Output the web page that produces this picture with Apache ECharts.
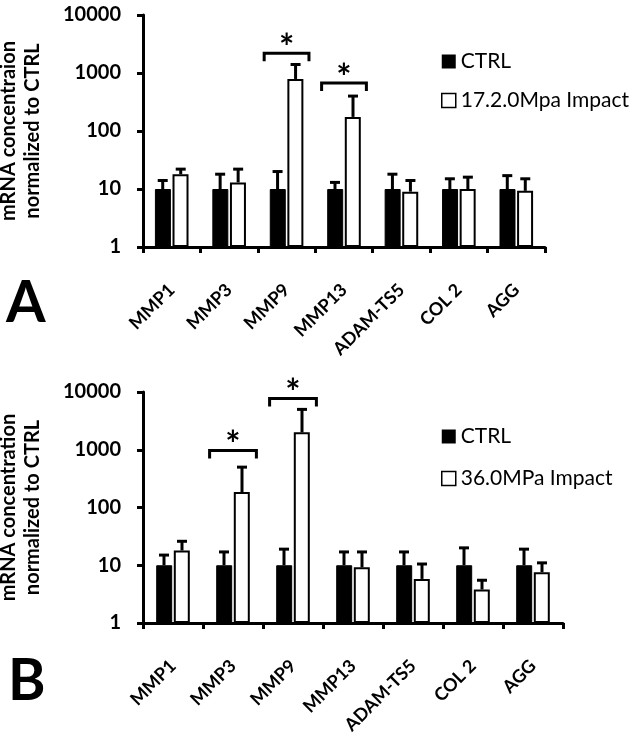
<!DOCTYPE html>
<html>
<head>
<meta charset="utf-8">
<script src="https://cdn.jsdelivr.net/npm/echarts@6/dist/echarts.min.js"></script>
<style>
  html, body { margin: 0; padding: 0; background: #fff; }
  #chart { width: 633px; height: 740px; }
</style>
</head>
<body>
<div id="chart"></div>
<script>
// categories (shared by both panels)
const categories = ['MMP1', 'MMP3', 'MMP9', 'MMP13', 'ADAM-TS5', 'COL 2', 'AGG'];

// panel A: 17.2 MPa impact
const ctrlA = [10, 10, 10, 10, 10, 10, 10];
const ctrlTopA = [14, 18, 20, 13, 18, 15, 17];      // mean + SD
const impactA = [18, 13, 790, 175, 9, 10, 9.3];
const impactTopA = [22, 22, 1400, 400, 14, 16, 15];
const sigA = [[2, 2200], [3, 670]];                 // [category, bracket height]

// panel B: 36.0 MPa impact
const ctrlB = [10, 10, 10, 10, 10, 10, 10];
const ctrlTopB = [15, 17, 19, 17, 17, 20, 19];
const impactB = [18, 185, 2000, 9.2, 5.8, 3.8, 7.6];
const impactTopB = [26, 500, 5000, 17, 10.5, 5.5, 11];
const sigB = [[1, 970], [2, 7700]];

const labelA = '17.2.0Mpa Impact';
const labelB = '36.0MPa Impact';

const FONT = 'Lato';
const BAR_W = 16;

const chart = echarts.init(document.getElementById('chart'));

// error bars, only upward
function errRender(offset) {
  return function (params, api) {
    const base = api.coord([api.value(0), api.value(1)]);
    const top = api.coord([api.value(0), api.value(2)]);
    const x = base[0] + offset;
    return {
      type: 'group',
      children: [
        { type: 'line', shape: { x1: x, y1: base[1], x2: x, y2: top[1] }, style: { stroke: '#000', lineWidth: 3 } },
        { type: 'line', shape: { x1: x - 5, y1: top[1], x2: x + 5, y2: top[1] }, style: { stroke: '#000', lineWidth: 3 } }
      ]
    };
  };
}

// significance bracket with star
function sigRender(params, api) {
  const p = api.coord([api.value(0), api.value(1)]);
  const band = api.coord([1, 1])[0] - api.coord([0, 1])[0];
  const hw = band * 0.39;
  return {
    type: 'group',
    children: [
      { type: 'polyline', shape: { points: [[p[0] - hw, p[1] + 8], [p[0] - hw, p[1]], [p[0] + hw, p[1]], [p[0] + hw, p[1] + 8]] },
        style: { stroke: '#000', lineWidth: 3, fill: null } },
      { type: 'text', x: p[0], y: p[1] + 13, style: { text: '*', fontSize: 36, fontWeight: 'bold', fontFamily: FONT, fill: '#000', align: 'center', verticalAlign: 'bottom' } }
    ]
  };
}

function panelSeries(idx, ctrl, ctrlTop, impact, impactTop, sig, impactName) {
  const off = BAR_W / 2 + 1;
  return [
    { name: 'CTRL', type: 'bar', xAxisIndex: idx, yAxisIndex: idx, data: ctrl, barWidth: BAR_W, barGap: '10%',
      itemStyle: { color: '#000', borderColor: '#000', borderWidth: 1 } },
    { name: impactName, type: 'bar', xAxisIndex: idx, yAxisIndex: idx, data: impact, barWidth: BAR_W, barGap: '10%',
      itemStyle: { color: '#fff', borderColor: '#000', borderWidth: 2 } },
    { type: 'custom', xAxisIndex: idx, yAxisIndex: idx, z: 5, renderItem: errRender(-off),
      data: ctrl.map((v, i) => [i, v, ctrlTop[i]]), encode: { x: 0, y: [1, 2] } },
    { type: 'custom', xAxisIndex: idx, yAxisIndex: idx, z: 5, renderItem: errRender(off),
      data: impact.map((v, i) => [i, v, impactTop[i]]), encode: { x: 0, y: [1, 2] } },
    { type: 'custom', xAxisIndex: idx, yAxisIndex: idx, z: 5, renderItem: sigRender,
      data: sig, encode: { x: 0, y: 1 } }
  ];
}

const axisLine = { show: true, lineStyle: { color: '#000', width: 3 } };
const axisTick = { show: true, length: 6, lineStyle: { color: '#000', width: 3 } };

function xAxis(idx) {
  return {
    type: 'category', gridIndex: idx, data: categories,
    axisLine: axisLine, axisTick: axisTick,
    axisLabel: { rotate: 45, margin: 40, interval: 0, color: '#000', fontSize: 18, fontWeight: 'bold', fontFamily: FONT }
  };
}

function yAxis(idx, name) {
  return {
    type: 'log', logBase: 10, gridIndex: idx, min: 1, max: 10000,
    name: name, nameLocation: 'middle', nameRotate: 90, nameGap: 98, nameMoveOverlap: false,
    nameTextStyle: { color: '#000', fontSize: 20, fontWeight: 'bold', fontFamily: FONT, lineHeight: 24 },
    axisLine: axisLine, axisTick: axisTick, splitLine: { show: false },
    axisLabel: { color: '#000', fontSize: 20, fontWeight: 'bold', fontFamily: FONT, margin: 22,
      formatter: (v) => String(v) }
  };
}

function legend(top, gap, impactName) {
  return {
    left: 436, top: top, orient: 'vertical', itemGap: gap, itemWidth: 14, itemHeight: 14,
    textStyle: { color: '#000', fontSize: 21, fontFamily: FONT },
    data: [
      { name: 'CTRL', icon: 'rect', itemStyle: { color: '#000', borderWidth: 0 } },
      { name: impactName, icon: 'rect', itemStyle: { color: '#fff', borderColor: '#000', borderWidth: 1.5 } }
    ]
  };
}

const option = {
  animation: false,
  backgroundColor: '#fff',
  title: [
    { text: 'A', left: 1, top: 270, textStyle: { fontSize: 57, fontWeight: 'bold', fontFamily: FONT, color: '#000' } },
    { text: 'B', left: 3, top: 648, textStyle: { fontSize: 57, fontWeight: 'bold', fontFamily: FONT, color: '#000' } }
  ],
  legend: [legend(46, 18, labelA), legend(421, 21, labelB)],
  grid: [
    { left: 143, top: 15, width: 402, height: 232, outerBoundsMode: 'none' },
    { left: 143, top: 392, width: 420, height: 231, outerBoundsMode: 'none' }
  ],
  xAxis: [xAxis(0), xAxis(1)],
  yAxis: [
    yAxis(0, 'mRNA concentraion\nnormalized to CTRL'),
    yAxis(1, 'mRNA concentration\nnormalized to CTRL')
  ],
  series: [
    ...panelSeries(0, ctrlA, ctrlTopA, impactA, impactTopA, sigA, labelA),
    ...panelSeries(1, ctrlB, ctrlTopB, impactB, impactTopB, sigB, labelB)
  ]
};

chart.setOption(option);
</script>
</body>
</html>
